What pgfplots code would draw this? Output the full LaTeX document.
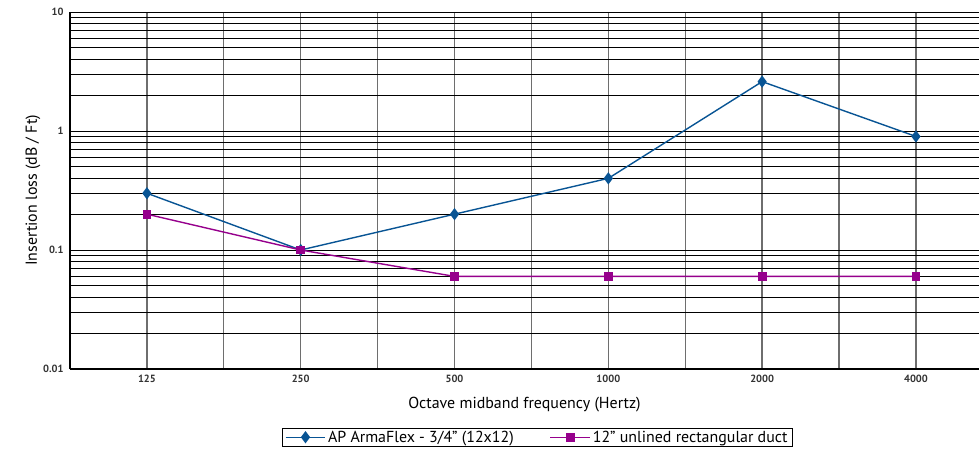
\documentclass[border=0pt]{standalone}
\usepackage{fontspec}
\setmainfont{PT Sans}
\usepackage{pgfplots}
\pgfplotsset{compat=1.18}
\definecolor{armablue}{RGB}{8,84,148}
\definecolor{ductpurple}{RGB}{150,0,140}
\definecolor{vgrid}{RGB}{110,110,110}
\begin{document}
\begin{tikzpicture}
\begin{axis}[
  scale only axis,
  width=909bp, height=357bp,
  ymode=log, ymin=0.01, ymax=10,
  xmin=-0.5, xmax=5.41,
  axis x line*=bottom, axis y line*=left,
  axis line style={black, line width=1.3bp, -},
  xtick={0,1,2,3,4,5},
  xticklabels={125,250,500,1000,2000,4000},
  minor xtick={0.5,1.5,2.5,3.5,4.5},
  ytick={0.01,0.1,1,10},
  yticklabels={0.01,0.1,1,10},
  minor ytick={0.02,0.03,0.04,0.05,0.06,0.07,0.08,0.09,0.2,0.3,0.4,0.5,0.6,0.7,0.8,0.9,2,3,4,5,6,7,8,9},
  major tick length=0pt, minor tick length=0pt,
  grid=both,
  x grid style={vgrid, line width=1.3bp},
  y grid style={black, line width=0.9bp},
  minor x grid style={vgrid, line width=1.3bp},
  minor y grid style={black, line width=0.9bp},
  tick label style={font=\fontsize{10.5}{12}\selectfont\bfseries, text=black!80},
  yticklabel style={xshift=-3bp},
  xticklabel style={yshift=-3bp},
  xlabel={Octave midband frequency (Hertz)},
  ylabel={Insertion loss (dB / Ft)},
  label style={font=\fontsize{16}{18}\selectfont},
  xlabel style={yshift=-7bp},
  ylabel style={yshift=-4bp},
  legend style={at={(0.514,-0.165)}, anchor=north, legend columns=2,
    draw=black, line width=0.8bp, inner xsep=3bp, inner ysep=0.5bp,
    font=\fontsize{16}{18}\selectfont,
    /tikz/every even column/.append style={column sep=34bp}},
  legend image code/.code={
    \draw[#1, mark repeat=2, mark phase=2] plot coordinates {(0cm,0cm) (0.7cm,0cm) (1.4cm,0cm)};},
]
\addplot[armablue, line width=1.4bp, mark=diamond*, mark size=5bp, mark options={solid}]
  coordinates {(0,0.3) (1,0.1) (2,0.2) (3,0.4) (4,2.6) (5,0.9)};
\addlegendentry{AP ArmaFlex - 3/4" (12x12)}
\addplot[ductpurple, line width=1.4bp, mark=square*, mark size=3.7bp, mark options={solid}]
  coordinates {(0,0.2) (1,0.1) (2,0.06) (3,0.06) (4,0.06) (5,0.06)};
\addlegendentry{12" unlined rectangular duct}
\end{axis}
\pgfresetboundingbox
\path[use as bounding box] ([xshift=-70bp,yshift=-82bp]current axis.south west) rectangle ([yshift=12bp]current axis.north east);
\end{tikzpicture}
\end{document}
